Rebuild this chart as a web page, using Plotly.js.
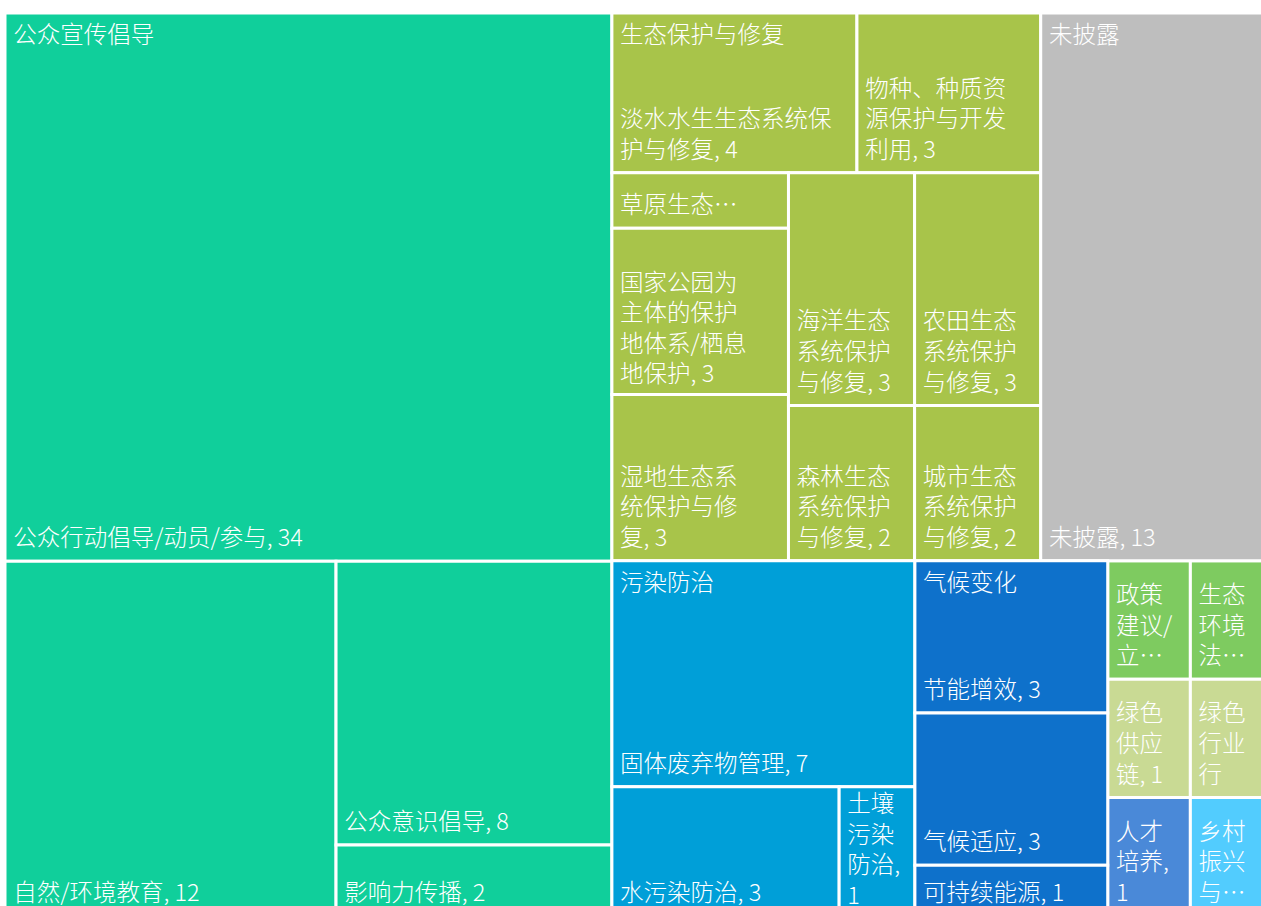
<!DOCTYPE html>
<html>
<head>
<meta charset="utf-8">
<script src="https://cdn.plot.ly/plotly-3.0.1.min.js"></script>
<style>html,body{margin:0;padding:0;overflow:hidden;background:#ffffff}</style>
</head>
<body>
<div id="chart"></div>
<script>
// ---- data ----
const groupNames  = ['公众宣传倡导', '生态保护与修复', '未披露', '污染防治', '气候变化'];
const groupColors = ['#10CF9B', '#A8C44A', '#BEBEBE', '#009FD8', '#0E71CB'];

const leafParents = [
  '公众宣传倡导', '公众宣传倡导', '公众宣传倡导', '公众宣传倡导',
  '生态保护与修复', '生态保护与修复', '生态保护与修复', '生态保护与修复', '生态保护与修复',
  '生态保护与修复', '生态保护与修复', '生态保护与修复', '生态保护与修复',
  '未披露',
  '污染防治', '污染防治', '污染防治',
  '气候变化', '气候变化', '气候变化'
];
const leafLabels = [
  '公众行动倡导/动员/参与', '自然/环境教育', '公众意识倡导', '影响力传播',
  '淡水水生生态系统保护与修复', '物种、种质资源保护与开发利用', '草原生态…',
  '国家公园为主体的保护地体系/栖息地保护', '湿地生态系统保护与修复',
  '海洋生态系统保护与修复', '农田生态系统保护与修复',
  '森林生态系统保护与修复', '城市生态系统保护与修复',
  '未披露',
  '固体废弃物管理', '水污染防治', '土壤污染防治',
  '节能增效', '气候适应', '可持续能源'
];
const leafValues = [34, 12, 8, 2,  4, 3, 1, 3, 3, 3, 3, 2, 2,  13,  7, 3, 1,  3, 3, 1];
const leafText = [
  '公众行动倡导/动员/参与, 34', '自然/环境教育, 12', '公众意识倡导, 8', '影响力传播, 2',
  '淡水水生生态系统保<br>护与修复, 4', '物种、种质资<br>源保护与开发<br>利用, 3', '草原生态…',
  '国家公园为<br>主体的保护<br>地体系/栖息<br>地保护, 3', '湿地生态系<br>统保护与修<br>复, 3',
  '海洋生态<br>系统保护<br>与修复, 3', '农田生态<br>系统保护<br>与修复, 3',
  '森林生态<br>系统保护<br>与修复, 2', '城市生态<br>系统保护<br>与修复, 2',
  '未披露, 13',
  '固体废弃物管理, 7', '水污染防治, 3', '土壤<br>污染<br>防治,<br>1',
  '节能增效, 3', '气候适应, 3', '可持续能源, 1'
];

const soloLabels = ['政策建议/立…', '生态环境法…', '绿色供应链', '绿色行业行…', '人才培养', '乡村振兴与…'];
const soloValues = [1, 1, 1, 1, 1, 1];
const soloColors = ['#7ECB60', '#7ECB60', '#C9DA94', '#C9DA94', '#4A89D8', '#52CCFE'];
const soloText   = ['政策<br>建议/<br>立…', '生态<br>环境<br>法…', '绿色<br>供应<br>链, 1', '绿色<br>行业<br>行', '人才<br>培养,<br>1', '乡村<br>振兴<br>与…'];

// ---- helpers: small left indent, and a little extra room under bottom-anchored labels ----
const indent = s => s.split('<br>').map(t => '\u00a0' + t).join('<br>');
const lift = s => s + '<span style="font-size:' + (s.split('<br>').length > 3 ? 31 : 40) + 'px">\u00a0</span>';
const groupValue = g => leafValues.filter((v, j) => leafParents[j] === g).reduce((a, b) => a + b, 0);

// trace 1: full hierarchy (cells + leaf labels at bottom left)
const ids = [], labels = [], parents = [], values = [], colors = [], txt = [];
groupNames.forEach((g, i) => {
  ids.push(g); labels.push(g); parents.push(''); values.push(groupValue(g));
  colors.push(groupColors[i]); txt.push('');
});
leafLabels.forEach((l, j) => {
  const p = leafParents[j];
  ids.push(p + '/' + l); labels.push(l); parents.push(p); values.push(leafValues[j]);
  colors.push(groupColors[groupNames.indexOf(p)]); txt.push(lift(indent(leafText[j])));
});
soloLabels.forEach((l, k) => {
  ids.push(l); labels.push(l); parents.push(''); values.push(soloValues[k]);
  colors.push(soloColors[k]); txt.push(lift(indent(soloText[k])));
});

// trace 2: top level only (same partition) -> group names at top left
const ids2 = groupNames.concat(soloLabels);
const values2 = groupNames.map(groupValue).concat(soloValues);
const txt2 = groupNames.map(indent).concat(soloLabels.map(() => ''));

const font = {family: '"Noto Sans CJK SC", "Noto Sans", sans-serif', size: 23.5, color: '#ffffff', weight: 300};
const tiling = {packing: 'squarify', squarifyratio: 1.2, pad: 0};
const padZero = {t: 0, l: 0, r: 0, b: 0};

const cells = {
  type: 'treemap', ids: ids, labels: labels, parents: parents, values: values,
  branchvalues: 'total', sort: false, tiling: tiling, pathbar: {visible: false},
  hoverinfo: 'none', text: txt, texttemplate: '%{text}', textfont: font,
  textposition: 'bottom left',
  marker: {colors: colors, line: {color: '#ffffff', width: 3}, pad: padZero, depthfade: false},
  leaf: {opacity: 1}
};
const heads = {
  type: 'treemap', ids: ids2, labels: ids2, parents: ids2.map(() => ''), values: values2,
  branchvalues: 'total', sort: false, tiling: tiling, pathbar: {visible: false},
  hoverinfo: 'none', text: txt2, texttemplate: '%{text}', textfont: font,
  textposition: 'top left',
  marker: {colors: ids2.map(() => 'rgba(0,0,0,0)'), line: {width: 0}, pad: padZero, depthfade: false},
  leaf: {opacity: 1}
};

Plotly.newPlot('chart', [cells, heads], {
  width: 1278, height: 919,
  margin: {l: 5, r: 5, t: 13, b: 3},
  paper_bgcolor: '#ffffff',
  uniformtext: {mode: 'show', minsize: 23.5},
  showlegend: false
}, {displayModeBar: false, staticPlot: true});
</script>
</body>
</html>
